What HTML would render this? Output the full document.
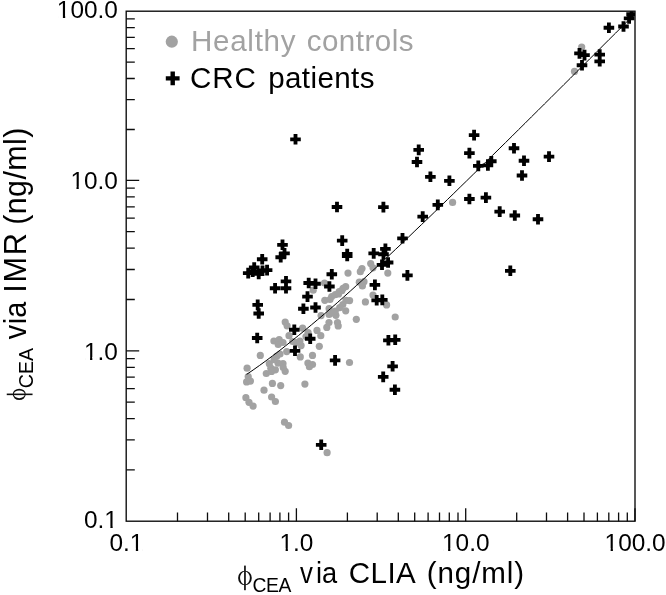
<!DOCTYPE html><html><head><meta charset="utf-8"><style>html,body{margin:0;padding:0;background:#fff}svg{display:block}text{font-family:"Liberation Sans",sans-serif;fill:#000}</style></head><body>
<svg width="666" height="595" viewBox="0 0 666 595">
<defs><filter id="b" x="0" y="0" width="666" height="595" filterUnits="userSpaceOnUse"><feGaussianBlur stdDeviation="0.55"/></filter></defs>
<rect width="666" height="595" fill="#fff"/>
<g filter="url(#b)">
<rect width="666" height="595" fill="#fff"/>
<clipPath id="cp"><rect x="126.2" y="11.2" width="508.8" height="510.0"/></clipPath>
<g clip-path="url(#cp)">
<g fill="#a2a2a2">
<circle cx="370.7" cy="263.6" r="3.6"/>
<circle cx="362.0" cy="268.6" r="3.6"/>
<circle cx="373.0" cy="267.8" r="3.6"/>
<circle cx="348.0" cy="273.1" r="3.6"/>
<circle cx="387.8" cy="273.1" r="3.6"/>
<circle cx="324.5" cy="283.0" r="3.6"/>
<circle cx="359.3" cy="282.2" r="3.6"/>
<circle cx="362.4" cy="286.0" r="3.6"/>
<circle cx="345.7" cy="286.7" r="3.6"/>
<circle cx="373.0" cy="295.0" r="3.6"/>
<circle cx="365.4" cy="301.9" r="3.6"/>
<circle cx="386.6" cy="304.9" r="3.6"/>
<circle cx="395.2" cy="317.0" r="3.6"/>
<circle cx="356.3" cy="319.3" r="3.6"/>
<circle cx="285.2" cy="322.1" r="3.6"/>
<circle cx="247.1" cy="368.2" r="3.6"/>
<circle cx="260.3" cy="355.4" r="3.6"/>
<circle cx="248.2" cy="376.6" r="3.6"/>
<circle cx="246.6" cy="381.9" r="3.6"/>
<circle cx="250.4" cy="381.1" r="3.6"/>
<circle cx="273.9" cy="341.0" r="3.6"/>
<circle cx="279.2" cy="339.5" r="3.6"/>
<circle cx="283.0" cy="342.5" r="3.6"/>
<circle cx="289.0" cy="335.7" r="3.6"/>
<circle cx="302.6" cy="328.2" r="3.6"/>
<circle cx="317.0" cy="330.4" r="3.6"/>
<circle cx="320.8" cy="335.7" r="3.6"/>
<circle cx="326.8" cy="327.4" r="3.6"/>
<circle cx="319.3" cy="346.3" r="3.6"/>
<circle cx="312.5" cy="355.4" r="3.6"/>
<circle cx="301.1" cy="345.6" r="3.6"/>
<circle cx="296.5" cy="342.5" r="3.6"/>
<circle cx="286.7" cy="351.6" r="3.6"/>
<circle cx="300.3" cy="356.9" r="3.6"/>
<circle cx="276.9" cy="356.1" r="3.6"/>
<circle cx="280.0" cy="354.0" r="3.6"/>
<circle cx="269.3" cy="363.7" r="3.6"/>
<circle cx="283.0" cy="363.7" r="3.6"/>
<circle cx="270.8" cy="368.2" r="3.6"/>
<circle cx="275.4" cy="369.8" r="3.6"/>
<circle cx="266.3" cy="373.5" r="3.6"/>
<circle cx="285.2" cy="371.3" r="3.6"/>
<circle cx="307.9" cy="363.0" r="3.6"/>
<circle cx="312.5" cy="364.5" r="3.6"/>
<circle cx="309.4" cy="366.7" r="3.6"/>
<circle cx="272.4" cy="383.4" r="3.6"/>
<circle cx="280.7" cy="385.6" r="3.6"/>
<circle cx="304.9" cy="384.1" r="3.6"/>
<circle cx="264.0" cy="390.2" r="3.6"/>
<circle cx="245.9" cy="397.7" r="3.6"/>
<circle cx="271.6" cy="397.0" r="3.6"/>
<circle cx="338.2" cy="325.9" r="3.6"/>
<circle cx="349.5" cy="362.5" r="3.6"/>
<circle cx="335.9" cy="315.3" r="3.6"/>
<circle cx="329.1" cy="314.5" r="3.6"/>
<circle cx="345.7" cy="310.8" r="3.6"/>
<circle cx="327.1" cy="452.7" r="3.6"/>
<circle cx="284.5" cy="422.2" r="3.6"/>
<circle cx="288.6" cy="425.5" r="3.6"/>
<circle cx="249.0" cy="402.3" r="3.6"/>
<circle cx="253.1" cy="406.1" r="3.6"/>
<circle cx="275.4" cy="401.5" r="3.6"/>
<circle cx="452.6" cy="202.4" r="3.6"/>
<circle cx="581.7" cy="47.0" r="3.6"/>
<circle cx="574.5" cy="71.4" r="3.6"/>
<circle cx="313.2" cy="290.2" r="3.6"/>
<circle cx="360.3" cy="271.7" r="3.6"/>
<circle cx="364.0" cy="281.7" r="3.6"/>
<circle cx="341.8" cy="290.7" r="3.6"/>
<circle cx="338.6" cy="293.9" r="3.6"/>
<circle cx="331.7" cy="296.5" r="3.6"/>
<circle cx="324.8" cy="300.3" r="3.6"/>
<circle cx="330.0" cy="299.5" r="3.6"/>
<circle cx="346.0" cy="300.3" r="3.6"/>
<circle cx="342.8" cy="304.5" r="3.6"/>
<circle cx="339.7" cy="307.7" r="3.6"/>
<circle cx="329.1" cy="308.7" r="3.6"/>
<circle cx="332.8" cy="313.0" r="3.6"/>
<circle cx="321.1" cy="315.6" r="3.6"/>
<circle cx="337.5" cy="322.5" r="3.6"/>
<circle cx="329.0" cy="322.5" r="3.6"/>
<circle cx="339.2" cy="291.5" r="3.6"/>
<circle cx="335.3" cy="294.6" r="3.6"/>
<circle cx="343.1" cy="288.3" r="3.6"/>
<circle cx="349.6" cy="300.6" r="3.6"/>
<circle cx="335.3" cy="311.0" r="3.6"/>
<circle cx="278.0" cy="363.1" r="3.6"/>
<circle cx="283.2" cy="367.5" r="3.6"/>
<circle cx="271.5" cy="371.4" r="3.6"/>
<circle cx="274.1" cy="359.7" r="3.6"/>
<circle cx="287.1" cy="325.8" r="3.6"/>
<circle cx="278.2" cy="344.5" r="3.6"/>
<circle cx="292.7" cy="341.5" r="3.6"/>
<circle cx="299.9" cy="341.0" r="3.6"/>
<circle cx="308.1" cy="332.7" r="3.6"/>
<circle cx="306.0" cy="336.5" r="3.6"/>
</g>
<polyline points="246.6,374.4 253.1,370.0 259.6,365.4 266.1,360.7 272.5,355.9 279.0,351.0 285.5,345.9 291.9,340.8 298.4,335.6 304.9,330.3 311.4,324.9 317.8,319.5 324.3,314.0 330.8,308.4 337.3,302.7 343.7,297.0 350.2,291.2 356.7,285.3 363.1,279.5 369.6,273.5 376.1,267.5 382.6,261.5 389.0,255.5 395.5,249.4 402.0,243.3 408.5,237.1 414.9,230.9 421.4,224.7 427.9,218.5 434.3,212.3 440.8,206.0 447.3,199.7 453.8,193.4 460.2,187.1 466.7,180.8 473.2,174.4 479.7,168.1 486.1,161.7 492.6,155.3 499.1,148.9 505.5,142.6 512.0,136.2 518.5,129.7 525.0,123.3 531.4,116.9 537.9,110.5 544.4,104.0 550.9,97.6 557.3,91.2 563.8,84.7 570.3,78.3 576.7,71.8 583.2,65.4 589.7,58.9 596.2,52.5 602.6,46.0 609.1,39.5 615.6,33.1 622.1,26.6 628.5,20.1 635.0,13.7" fill="none" stroke="#000" stroke-width="1.0"/>
<path d="M277.2 244.8h10.6M282.5 239.5v10.6M279.2 253.4h10.6M284.5 248.1v10.6M275.4 257.2h10.6M280.7 251.9v10.6M256.9 259.2h10.6M262.2 253.9v10.6M248.9 267.5h10.6M254.2 262.2v10.6M261.8 270.1h10.6M267.1 264.8v10.6M242.9 273.1h10.6M248.2 267.8v10.6M247.4 271.6h10.6M252.7 266.3v10.6M253.4 273.9h10.6M258.7 268.6v10.6M257.2 270.8h10.6M262.5 265.5v10.6M280.7 281.4h10.6M286.0 276.1v10.6M269.8 288.2h10.6M275.1 282.9v10.6M280.7 288.2h10.6M286.0 282.9v10.6M252.4 304.9h10.6M257.7 299.6v10.6M253.4 313.5h10.6M258.7 308.2v10.6M303.4 283.0h10.6M308.7 277.7v10.6M310.2 283.7h10.6M315.5 278.4v10.6M302.2 296.6h10.6M307.5 291.3v10.6M298.1 308.7h10.6M303.4 303.4v10.6M310.2 307.5h10.6M315.5 302.2v10.6M324.1 286.5h10.6M329.4 281.2v10.6M336.9 240.6h10.6M342.2 235.3v10.6M341.9 254.0h10.6M347.2 248.7v10.6M341.9 256.0h10.6M347.2 250.7v10.6M326.5 274.2h10.6M331.8 268.9v10.6M368.4 253.4h10.6M373.7 248.1v10.6M380.1 248.9h10.6M385.4 243.6v10.6M378.2 254.2h10.6M383.5 248.9v10.6M376.7 264.8h10.6M382.0 259.5v10.6M382.8 262.5h10.6M388.1 257.2v10.6M397.2 238.3h10.6M402.5 233.0v10.6M402.1 275.4h10.6M407.4 270.1v10.6M369.6 284.9h10.6M374.9 279.6v10.6M371.4 300.3h10.6M376.7 295.0v10.6M377.0 299.9h10.6M382.3 294.6v10.6M251.9 338.0h10.6M257.2 332.7v10.6M289.0 329.7h10.6M294.3 324.4v10.6M304.9 338.7h10.6M310.2 333.4v10.6M289.7 350.8h10.6M295.0 345.5v10.6M329.8 360.4h10.6M335.1 355.1v10.6M383.1 340.3h10.6M388.4 335.0v10.6M389.9 339.8h10.6M395.2 334.5v10.6M387.3 366.3h10.6M392.6 361.0v10.6M377.9 376.9h10.6M383.2 371.6v10.6M389.6 389.7h10.6M394.9 384.4v10.6M315.9 444.8h10.6M321.2 439.5v10.6M290.2 139.3h10.6M295.5 134.0v10.6M331.7 207.0h10.6M337.0 201.7v10.6M413.4 149.9h10.6M418.7 144.6v10.6M411.7 162.0h10.6M417.0 156.7v10.6M425.1 176.8h10.6M430.4 171.5v10.6M444.1 180.8h10.6M449.4 175.5v10.6M378.1 207.1h10.6M383.4 201.8v10.6M432.5 204.9h10.6M437.8 199.6v10.6M417.4 216.6h10.6M422.7 211.3v10.6M468.8 135.1h10.6M474.1 129.8v10.6M464.1 153.1h10.6M469.4 147.8v10.6M473.0 165.9h10.6M478.3 160.6v10.6M482.6 165.4h10.6M487.9 160.1v10.6M486.0 161.2h10.6M491.3 155.9v10.6M464.1 199.0h10.6M469.4 193.7v10.6M480.6 197.6h10.6M485.9 192.3v10.6M494.4 211.6h10.6M499.7 206.3v10.6M509.5 215.5h10.6M514.8 210.2v10.6M532.7 219.2h10.6M538.0 213.9v10.6M508.7 148.2h10.6M514.0 142.9v10.6M518.7 160.7h10.6M524.0 155.4v10.6M516.7 175.5h10.6M522.0 170.2v10.6M543.7 156.6h10.6M549.0 151.3v10.6M505.0 270.8h10.6M510.3 265.5v10.6M603.6 27.7h10.6M608.9 22.4v10.6M618.2 26.5h10.6M623.5 21.2v10.6M623.8 18.4h10.6M629.1 13.1v10.6M626.3 14.2h10.6M631.6 8.9v10.6M574.2 53.4h10.6M579.5 48.1v10.6M579.2 55.1h10.6M584.5 49.8v10.6M576.7 65.2h10.6M582.0 59.9v10.6M594.4 54.6h10.6M599.7 49.3v10.6M594.4 61.3h10.6M599.7 56.0v10.6" stroke="#000" stroke-width="3.85" fill="none"/>
</g>
<rect x="126.2" y="11.2" width="508.8" height="510.0" fill="none" stroke="#0a0a0a" stroke-width="1.35"/>
<path d="M177.5 521.2v-8.6M126.2 469.9h8.6M207.5 521.2v-8.6M126.2 439.9h8.6M228.7 521.2v-8.6M126.2 418.6h8.6M245.2 521.2v-8.6M126.2 402.1h8.6M258.7 521.2v-8.6M126.2 388.6h8.6M270.1 521.2v-8.6M126.2 377.2h8.6M279.9 521.2v-8.6M126.2 367.3h8.6M288.6 521.2v-8.6M126.2 358.6h8.6M296.4 521.2v-13M126.2 350.8h13M347.4 521.2v-8.6M126.2 299.5h8.6M377.2 521.2v-8.6M126.2 269.5h8.6M398.3 521.2v-8.6M126.2 248.2h8.6M414.7 521.2v-8.6M126.2 231.7h8.6M428.1 521.2v-8.6M126.2 218.2h8.6M439.5 521.2v-8.6M126.2 206.8h8.6M449.3 521.2v-8.6M126.2 196.9h8.6M458.0 521.2v-8.6M126.2 188.2h8.6M465.7 521.2v-13M126.2 180.4h13M516.7 521.2v-8.6M126.2 129.5h8.6M546.5 521.2v-8.6M126.2 99.7h8.6M567.6 521.2v-8.6M126.2 78.5h8.6M584.0 521.2v-8.6M126.2 62.1h8.6M597.4 521.2v-8.6M126.2 48.7h8.6M608.8 521.2v-8.6M126.2 37.4h8.6M618.6 521.2v-8.6M126.2 27.6h8.6M627.3 521.2v-8.6M126.2 18.9h8.6M635.0 521.2v-13" stroke="#0a0a0a" stroke-width="1.3" fill="none"/>
<text x="56.84" y="18.3" font-size="24.4">100.0</text><rect x="58.04" y="15.85" width="4.85" height="3.5" fill="#fff"/><rect x="65.19" y="15.85" width="4.6" height="3.5" fill="#fff"/>
<text x="70.41" y="189.0" font-size="24.4">10.0</text><rect x="71.61" y="186.55" width="4.85" height="3.5" fill="#fff"/><rect x="78.76" y="186.55" width="4.6" height="3.5" fill="#fff"/>
<text x="83.98" y="359.5" font-size="24.4">1.0</text><rect x="85.18" y="357.05" width="4.85" height="3.5" fill="#fff"/><rect x="92.33" y="357.05" width="4.6" height="3.5" fill="#fff"/>
<text x="83.98" y="528.4" font-size="24.4">0.1</text><rect x="105.53" y="525.95" width="4.85" height="3.5" fill="#fff"/><rect x="112.68" y="525.95" width="4.6" height="3.5" fill="#fff"/>
<text x="109.44" y="550.8" font-size="24.4">0.1</text><rect x="130.99" y="548.35" width="4.85" height="3.5" fill="#fff"/><rect x="138.14" y="548.35" width="4.6" height="3.5" fill="#fff"/>
<text x="279.54" y="550.8" font-size="24.4">1.0</text><rect x="280.74" y="548.35" width="4.85" height="3.5" fill="#fff"/><rect x="287.89" y="548.35" width="4.6" height="3.5" fill="#fff"/>
<text x="442.06" y="550.8" font-size="24.4">10.0</text><rect x="443.25" y="548.35" width="4.85" height="3.5" fill="#fff"/><rect x="450.41" y="548.35" width="4.6" height="3.5" fill="#fff"/>
<text x="604.57" y="550.8" font-size="24.4">100.0</text><rect x="605.77" y="548.35" width="4.85" height="3.5" fill="#fff"/><rect x="612.92" y="548.35" width="4.6" height="3.5" fill="#fff"/>
<circle cx="171.8" cy="41.7" r="6.1" fill="#a2a2a2"/>
<text transform="translate(191.08,51.4) scale(1.0300,1.0)" font-size="28.7" letter-spacing="0.672" fill="#a2a2a2" style="fill:#a2a2a2;letter-spacing:0.672px">Healthy</text>
<text transform="translate(306.71,51.4) scale(1.0300,1.0)" font-size="28.7" letter-spacing="0.458" fill="#a2a2a2" style="fill:#a2a2a2;letter-spacing:0.458px">controls</text>
<path d="M165.8 78.4h13.8M172.7 71.6v13.6" stroke="#000" stroke-width="4.4" fill="none"/>
<text transform="translate(190.09,88.3) scale(1.0100,1.0)" font-size="29.3" letter-spacing="0.863" fill="#000" style="fill:#000;letter-spacing:0.863px">CRC</text>
<text transform="translate(268.18,88.3) scale(1.0100,1.0)" font-size="29.3" letter-spacing="0.383" fill="#000" style="fill:#000;letter-spacing:0.383px">patients</text>
<path fill-rule="evenodd" d="M238.1 578.0a6.85 7.35 0 1 0 13.7 0a6.85 7.35 0 1 0 -13.7 0zM240.04999999999998 578.0a4.9 6.45 0 1 0 9.8 0a4.9 6.45 0 1 0 -9.8 0z" fill="#111"/><rect x="244.1" y="565.6" width="1.7" height="24.6" fill="#111"/>
<text transform="translate(252.50,592.3) scale(1.0000,1.0)" font-size="19.3" letter-spacing="-0.350" fill="#000" style="fill:#000;letter-spacing:-0.350px">CEA</text>
<text transform="translate(299.97,582.8) scale(0.9000,1.0)" font-size="28.7" letter-spacing="0.000" fill="#000" style="fill:#000;letter-spacing:0.000px">v</text>
<text transform="translate(316.00,582.8) scale(0.9500,1.0)" font-size="28.7" letter-spacing="-0.039" fill="#000" style="fill:#000;letter-spacing:-0.039px">ia</text>
<text transform="translate(348.65,582.8) scale(1.0300,1.0)" font-size="28.7" letter-spacing="0.480" fill="#000" style="fill:#000;letter-spacing:0.480px">CLIA</text>
<text transform="translate(426.80,582.8) scale(1.0300,1.0)" font-size="28.7" letter-spacing="0.870" fill="#000" style="fill:#000;letter-spacing:0.870px">(ng/ml)</text>
<g transform="translate(25.8,401) rotate(-90)">
<path fill-rule="evenodd" d="M0.9500000000000002 -6.550000000000001a5.7 6.5 0 1 0 11.4 0a5.7 6.5 0 1 0 -11.4 0zM2.7500000000000004 -6.550000000000001a3.9 5.5 0 1 0 7.8 0a3.9 5.5 0 1 0 -7.8 0z" fill="#111"/><rect x="5.8500000000000005" y="-19.05" width="1.6" height="25.8" fill="#111"/>
<text transform="translate(12.80,6.699999999999999) scale(1.0000,1.04)" font-size="19.6" letter-spacing="-0.025" fill="#000" style="fill:#000;letter-spacing:-0.025px">CEA</text>
<text transform="translate(61.85,0) scale(1.0071,1.12)" font-size="28.7" letter-spacing="0.000" fill="#000" style="fill:#000;letter-spacing:0.000px">v</text>
<text transform="translate(76.70,0) scale(1.0000,1.12)" font-size="28.7" letter-spacing="0.150" fill="#000" style="fill:#000;letter-spacing:0.150px">ia</text>
<text transform="translate(108.36,0) scale(1.0700,1.12)" font-size="28.7" letter-spacing="1.544" fill="#000" style="fill:#000;letter-spacing:1.544px">IMR</text>
<text transform="translate(176.25,0) scale(1.0600,1.12)" font-size="28.7" letter-spacing="0.378" fill="#000" style="fill:#000;letter-spacing:0.378px">(ng/ml)</text>
</g>
</g>
</svg></body></html>
